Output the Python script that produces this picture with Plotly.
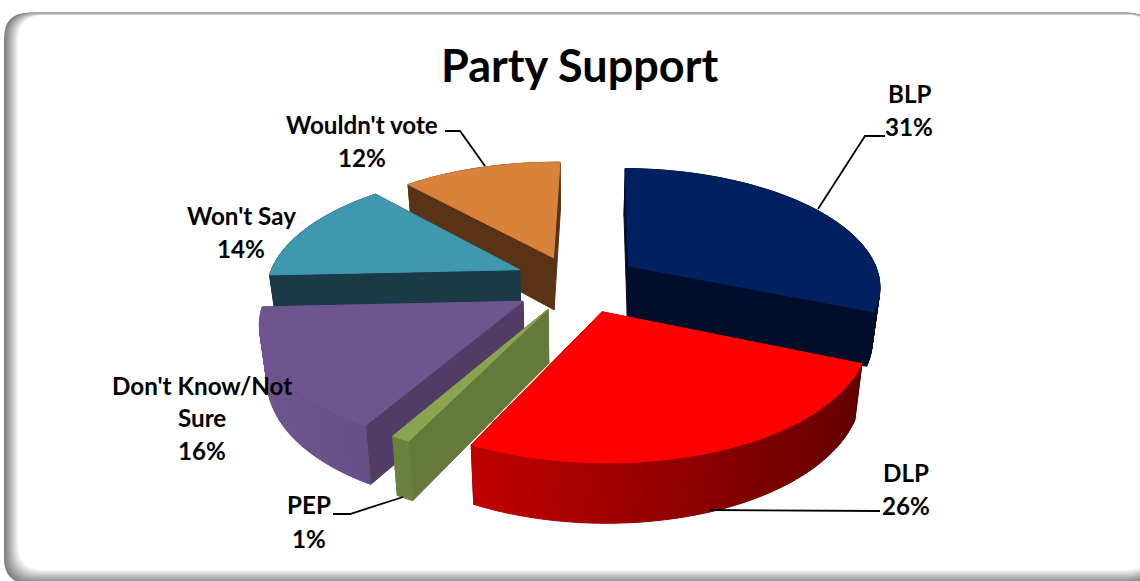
import numpy as np
import plotly.graph_objects as go

# Survey results
parties = ["BLP", "DLP", "PEP", "Don't Know/Not Sure", "Won't Say", "Wouldn't vote"]
support = [31, 26, 1, 16, 14, 12]

# Per-slice styling; each slice is pulled out of the pie by a ground-plane offset
pull_x = [0.217, 0.103, -0.103, -0.201, -0.223, -0.088]
pull_y = [0.130, -0.253, -0.232, -0.169, 0.098, 0.205]
top_colors = ["#002060", "#ff0000", "#8aa54f", "#6f5590", "#4097b0", "#d8823c"]
flat_colors = ["#000d2b", "#7a0000", "#65793a", "#503c64", "#1a3a47", "#5a3317"]
rim_from = [(0, 13, 43), (96, 0, 0), (101, 121, 58), (76, 58, 100), (26, 58, 71), (90, 51, 23)]
rim_to = [(0, 13, 43), (192, 0, 0), (110, 130, 65), (112, 86, 146), (26, 58, 71), (90, 51, 23)]

# Projection of the tilted pie onto the page (pixel units)
CX, CY = 575.0, 281.0
RX, RY = 252.0, 117.0
PERSP = 0.155
DEPTH = 53.0
BASE_SHRINK = 0.975
START_DEG = 1.0


def project(gx, gy, base=False):
    s = 1.0 / (1.0 + PERSP * np.asarray(gy))
    px = RX * np.asarray(gx) * s
    if base:
        px = px * BASE_SHRINK
    py = -RY * np.asarray(gy) * s + (DEPTH * s ** 0.6 if base else 0.0)
    return CX + px, CY + py


fig = go.Figure()


def polygon(xs, ys, color):
    fig.add_trace(go.Scatter(
        x=list(xs), y=list(ys), mode="lines", fill="toself", fillcolor=color,
        line=dict(color=color, width=1), hoverinfo="skip", showlegend=False,
    ))


def wall_quad(gx, gy, color):
    """Vertical face between two ground points."""
    tx, ty = project(gx, gy)
    bx, by = project(gx, gy, base=True)
    polygon(list(tx) + list(bx[::-1]) + [tx[0]], list(ty) + list(by[::-1]) + [ty[0]], color)


# Slice angles accumulate clockwise from the start angle
edges = np.radians(START_DEG + np.concatenate([[0], np.cumsum(support)]) * 3.6)
slices = []
for i in range(len(support)):
    a0, a1 = edges[i], edges[i + 1]
    mid = 0.5 * (a0 + a1)
    slices.append((np.cos(mid), i, a0, a1))

# Far slices first so the nearer ones cover them
for _, i, a0, a1 in sorted(slices, key=lambda t: -t[0]):
    ox, oy = pull_x[i], pull_y[i]
    n = max(4, int(support[i] * 4))
    th = np.linspace(a0, a1, n + 1)
    rim_x, rim_y = ox + np.sin(th), oy + np.cos(th)

    faces = []
    for e in (a0, a1):
        gx = np.array([ox, ox + np.sin(e)])
        gy = np.array([oy, oy + np.cos(e)])
        faces.append((gy.mean(), gx, gy, flat_colors[i]))
    for j in range(n):
        t = (np.sin(th[j]) + np.sin(th[j + 1])) / 2
        f = min(1.0, max(0.0, (0.93 - t) / 1.93))
        if i == 1:
            f = min(1.0, max(0.0, (0.93 - t) / 1.36))
        c = tuple(int(round(rim_from[i][k] + f * (rim_to[i][k] - rim_from[i][k]))) for k in range(3))
        faces.append(((rim_y[j] + rim_y[j + 1]) / 2, rim_x[j:j + 2], rim_y[j:j + 2], "rgb(%d,%d,%d)" % c))
    for _, gx, gy, col in sorted(faces, key=lambda t: -t[0]):
        wall_quad(gx, gy, col)

    tx, ty = project(np.r_[ox, rim_x, ox], np.r_[oy, rim_y, oy])
    polygon(tx, ty, top_colors[i])

# Leader lines from labels to slices
leaders = [
    ([885, 865, 818], [136, 136, 209]),
    ([880, 710], [511, 510]),
    ([333, 350, 403], [514, 514, 497]),
    ([445, 460, 485], [131, 131, 166]),
]
for lx, ly in leaders:
    fig.add_trace(go.Scatter(x=lx, y=ly, mode="lines", line=dict(color="black", width=1.8),
                             hoverinfo="skip", showlegend=False))

# Data labels, one annotation per text line
label_lines = [
    (909, 93, "BLP"), (909, 126, "31%"),
    (906, 472, "DLP"), (906, 505, "26%"),
    (309, 504, "PEP"), (309, 538, "1%"),
    (202, 385, "Don't Know/Not"), (202, 417, "Sure"), (202, 450, "16%"),
    (241, 215, "Won't Say"), (241, 248, "14%"),
    (362, 124, "Wouldn't vote"), (362, 157, "12%"),
]
annotations = [
    dict(x=x, y=y, text="<b>%s</b>" % t, showarrow=False, xref="x", yref="y",
         xanchor="center", yanchor="middle", font=dict(family="Lato", size=24.2, color="black"))
    for x, y, t in label_lines
]
annotations.append(dict(x=579, y=65, text="<b>Party Support</b>", showarrow=False, xref="x", yref="y",
                        xanchor="center", yanchor="middle",
                        font=dict(family="Lato", size=45, color="black")))


# Card background: nested rounded rectangles give the soft inner shadow
def rounded(l, t, r, b, rad):
    return (f"M{l+rad},{t} L{r-rad},{t} Q{r},{t} {r},{t+rad} L{r},{b-rad} Q{r},{b} {r-rad},{b} "
            f"L{l+rad},{b} Q{l},{b} {l},{b-rad} L{l},{t+rad} Q{l},{t} {l+rad},{t} Z")


shapes = []
steps = 14
for k in range(steps + 1):
    g = int(round(128 + 127 * (k / steps) ** 1.1))
    shapes.append(dict(
        type="path", layer="below", xref="x", yref="y",
        path=rounded(4 + k, 12.5 + k * 0.2 if k > 6 else 12.5 + k * 0.15, 1153, 584 - k * 1.0, 26),
        fillcolor=f"rgb({g},{g},{g})", line=dict(width=0),
    ))

fig.update_layout(
    width=1140, height=581,
    margin=dict(l=0, r=0, t=0, b=0),
    paper_bgcolor="white", plot_bgcolor="white",
    xaxis=dict(range=[0, 1140], visible=False, fixedrange=True),
    yaxis=dict(range=[581, 0], visible=False, fixedrange=True),
    shapes=shapes, annotations=annotations, showlegend=False,
)
fig.write_html("out.html", config=dict(displayModeBar=False))
